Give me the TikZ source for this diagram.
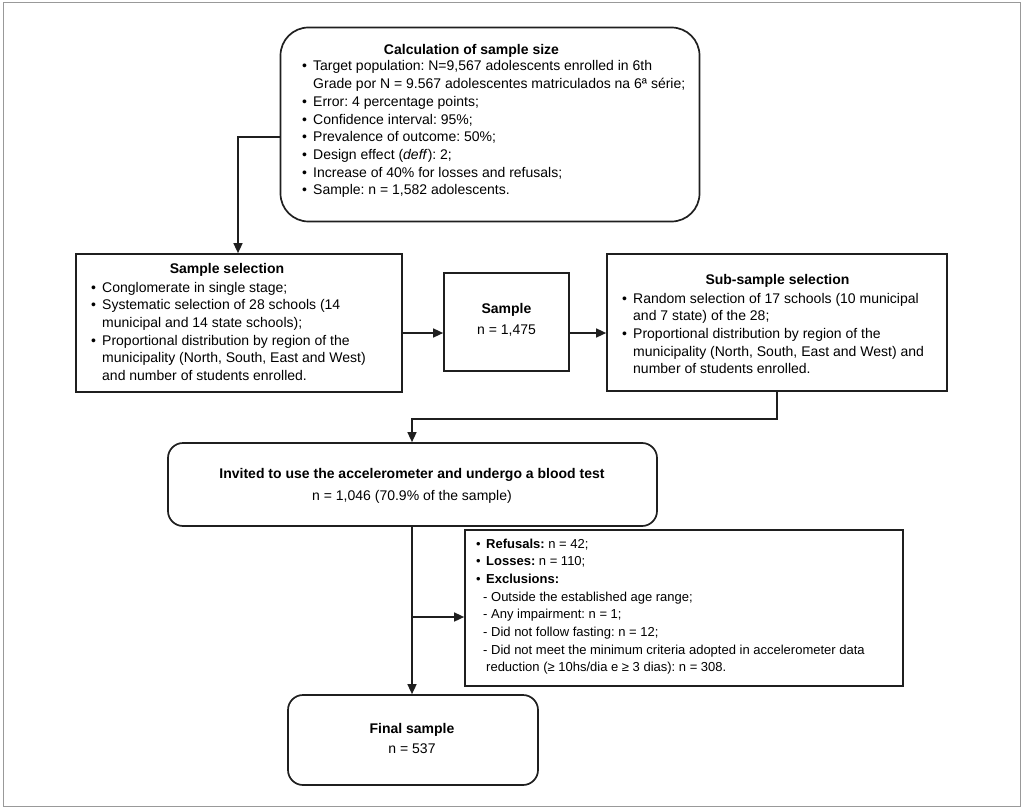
\documentclass[tikz,border=0pt]{standalone}
\usepackage{fontspec}
\setmainfont{Liberation Sans}
\usetikzlibrary{arrows.meta}
\frenchspacing
\newcommand{\Bu}{\makebox[11pt][l]{\textbullet}}
\newcommand{\Bv}{\makebox[10pt][l]{\textbullet}}
\begin{document}
\begin{tikzpicture}[x=1pt,y=-1pt,
  box/.style={draw=black!88, line width=1.7pt, inner sep=0pt},
  arr/.style={draw=black!88, line width=1.5pt, -{Triangle[length=10pt,width=9pt]}},
  txt/.style={inner sep=0pt, font=\fontsize{14}{17.7}\selectfont\frenchspacing},
  stxt/.style={inner sep=0pt, font=\fontsize{13}{17.7}\selectfont\frenchspacing},
]
\useasboundingbox (0,0) rectangle (1024,810);
\draw[black!40, line width=1pt] (3,3) rectangle (1020,806);

% boxes
\node[box, rounded corners=28pt, minimum width=419pt, minimum height=194pt] (calc) at (490,124.5) {};
\node[box, minimum width=326pt, minimum height=138pt] (sel) at (239,323) {};
\node[box, minimum width=125pt, minimum height=98pt] (samp) at (506.5,322) {};
\node[box, minimum width=340pt, minimum height=137pt] (sub) at (777,322.5) {};
\node[box, rounded corners=15pt, minimum width=489pt, minimum height=83pt] (inv) at (412.5,484.5) {};
\node[box, minimum width=438pt, minimum height=156pt] (exc) at (684,608) {};
\node[box, rounded corners=15pt, minimum width=250pt, minimum height=90pt] (fin) at (413,740) {};

% texts
\node[txt, anchor=base] (calct) at (471.5,55) {\bfseries Calculation of sample size};
\node[txt, anchor=base west] (calcl) at (302,71) {\begin{tabular}[t]{@{}l@{}l@{}}
\Bu & Target population: N=9,567 adolescents enrolled in 6th\\
 & Grade por N = 9.567 adolescentes matriculados na 6ª série;\\
\Bu & Error: 4 percentage points;\\
\Bu & Confidence interval: 95\%;\\
\Bu & Prevalence of outcome: 50\%;\\
\Bu & Design effect (\textit{deff}): 2;\\
\Bu & Increase of 40\% for losses and refusals;\\
\Bu & Sample: n = 1,582 adolescents.
\end{tabular}};

\node[txt, anchor=base] (selt) at (227,273) {\bfseries Sample selection};
\node[txt, anchor=base west] (sell) at (91,292) {\begin{tabular}[t]{@{}l@{}l@{}}
\Bu & Conglomerate in single stage;\\
\Bu & Systematic selection of 28 schools (14\\
 & municipal and 14 state schools);\\
\Bu & Proportional distribution by region of the\\
 & municipality (North, South, East and West)\\
 & and number of students enrolled.
\end{tabular}};

\node[txt, anchor=base] (sampt) at (506.5,313) {\bfseries Sample};
\node[txt, anchor=base] (sampn) at (506.5,334) {n = 1,475};

\node[txt, anchor=base] (subt) at (777.5,284) {\bfseries Sub-sample selection};
\node[txt, anchor=base west] (subl) at (622,303) {\begin{tabular}[t]{@{}l@{}l@{}}
\Bu & Random selection of 17 schools (10 municipal\\
 & and 7 state) of the 28;\\
\Bu & Proportional distribution by region of the\\
 & municipality (North, South, East and West) and\\
 & number of students enrolled.
\end{tabular}};

\node[txt, anchor=base] (invt) at (412,478) {\bfseries Invited to use the accelerometer and undergo a blood test};
\node[txt, anchor=base] (invn) at (412,500) {n = 1,046 (70.9\% of the sample)};

\node[stxt, anchor=base west] (excl) at (476,548) {\begin{tabular}[t]{@{}l@{}l@{}}
\Bv & \textbf{Refusals:} n = 42;\\
\Bv & \textbf{Losses:} n = 110;\\
\Bv & \textbf{Exclusions:}\\
\multicolumn{2}{@{}l@{}}{\hspace{7pt}- Outside the established age range;}\\
\multicolumn{2}{@{}l@{}}{\hspace{7pt}- Any impairment: n = 1;}\\
\multicolumn{2}{@{}l@{}}{\hspace{7pt}- Did not follow fasting: n = 12;}\\
\multicolumn{2}{@{}l@{}}{\hspace{7pt}- Did not meet the minimum criteria adopted in accelerometer data}\\
 & reduction (≥ 10hs/dia e ≥ 3 dias): n = 308.
\end{tabular}};

\node[txt, anchor=base] (fint) at (412,733) {\bfseries Final sample};
\node[txt, anchor=base] (finn) at (412,753) {n = 537};

% connectors
\coordinate (k1) at (238,137);
\draw[arr] (calc.west |- k1) -- (k1) -- (k1 |- sel.north);
\coordinate (k2) at (0,333);
\draw[arr] (sel.east |- k2) -- (samp.west |- k2);
\draw[arr] (samp.east |- k2) -- (sub.west |- k2);
\coordinate (k3) at (777,419);
\coordinate (k4) at (412,419);
\draw[arr] (k3 |- sub.south) -- (k3) -- (k4) -- (k4 |- inv.north);
\draw[arr] (k4 |- inv.south) -- (k4 |- fin.north);
\coordinate (k5) at (412,617);
\draw[arr] (k5) -- (exc.west |- k5);
\end{tikzpicture}
\end{document}
